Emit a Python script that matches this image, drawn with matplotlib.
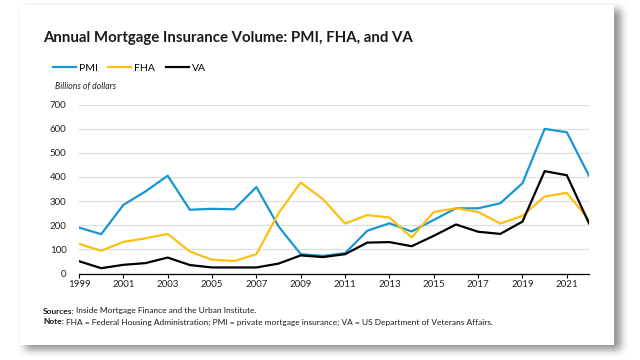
import matplotlib
matplotlib.use("Agg")
import matplotlib.pyplot as plt
import numpy as np

plt.rcParams['font.family'] = ['Lato', 'DejaVu Sans']

years = list(range(1999, 2023))
pmi = [190, 163, 284, 340, 405, 264, 268, 266, 358, 195, 80, 73, 84,
       177, 208, 174, 222, 270, 270, 291, 374, 599, 585, 405]
fha = [123, 94, 131, 146, 164, 91, 57, 52, 80, 250, 377, 308, 207,
       242, 232, 149, 255, 270, 255, 207, 239, 319, 334, 222]
va = [51, 22, 36, 43, 66, 35, 25, 25, 25, 41, 75, 68, 80,
      128, 130, 113, 156, 203, 173, 164, 215, 424, 407, 208]
tick_years = list(range(1999, 2022, 2))
y_ticks = [0, 100, 200, 300, 400, 500, 600, 700]

W, H = 640, 360
fig = plt.figure(figsize=(6.4, 3.6), dpi=100)
fig.patch.set_facecolor('white')

# card background with a soft drop shadow (right / bottom)
card = (20, 5, 614, 345)  # left, top, right, bottom in pixels
mask = np.zeros((H, W))
mask[card[1] + 4:card[3] + 5, card[0] + 5:card[2] + 7] = 1.0
k = np.ones(9) / 9
for _ in range(2):
    mask = np.apply_along_axis(lambda r: np.convolve(r, k, mode='same'), 1, mask)
    mask = np.apply_along_axis(lambda c: np.convolve(c, k, mode='same'), 0, mask)
img = 1 - 0.42 * mask
img[card[1]:card[3], card[0]:card[2]] = 1.0
bg = fig.add_axes([0, 0, 1, 1])
bg.imshow(np.dstack([img] * 3), aspect='auto', interpolation='bilinear')
bg.axis('off')

ax = fig.add_axes([79 / W, 1 - 273.5 / H, 510 / W, 169 / H])
ax.set_facecolor('none')

ax.plot(years, pmi, color='#1696d2', lw=1.6, label='PMI', zorder=3)
ax.plot(years, fha, color='#fdbf11', lw=1.6, label='FHA', zorder=3)
ax.plot(years, va, color='#000000', lw=1.6, label='VA', zorder=4)

ax.set_xlim(1999, 2022)
ax.set_ylim(0, 700)
ax.set_yticks(y_ticks)
ax.set_xticks(tick_years)
ax.grid(axis='y', color='#dedede', lw=0.9)
ax.set_axisbelow(True)
for s in ['top', 'right', 'left']:
    ax.spines[s].set_visible(False)
ax.spines['bottom'].set_color('#000000')
ax.spines['bottom'].set_linewidth(0.9)
ax.tick_params(axis='y', length=0, labelsize=7, pad=9, labelcolor='#222222')
ax.tick_params(axis='x', length=3, width=0.8, labelsize=7, pad=2,
               labelcolor='#222222')

fig.text(43 / W, 1 - 38 / H, 'Annual Mortgage Insurance Volume: PMI, FHA, and VA',
         fontsize=10.8, fontweight='bold', color='#1a1a1a', va='center', ha='left')
fig.legend(loc='center left', bbox_to_anchor=(53 / W, 1 - 68 / H), ncol=3,
           frameon=False, fontsize=7.5, handlelength=2.2, handletextpad=0.3,
           columnspacing=1.0, borderaxespad=0, borderpad=0)
fig.text(55 / W, 1 - 87 / H, 'Billions of dollars', fontsize=6.2,
         style='italic', color='#222222', va='center', ha='left')

# footnotes: bold label followed by regular text
renderer = fig.canvas.get_renderer()
notes = [('Sources:', 'Inside Mortgage Finance and the Urban Institute.', 311),
         ('Note:', 'FHA = Federal Housing Administration; PMI = private mortgage '
                   'insurance; VA = US Department of Veterans Affairs.', 322)]
for label, body, ypix in notes:
    t = fig.text(43 / W, 1 - ypix / H, label, fontsize=6, fontweight='bold',
                 color='#1a1a1a', va='center', ha='left')
    wpx = t.get_window_extent(renderer).width
    fig.text((43 + wpx + 2) / W, 1 - ypix / H, body, fontsize=6,
             color='#1a1a1a', va='center', ha='left')

fig.savefig('out.png', dpi=100)
